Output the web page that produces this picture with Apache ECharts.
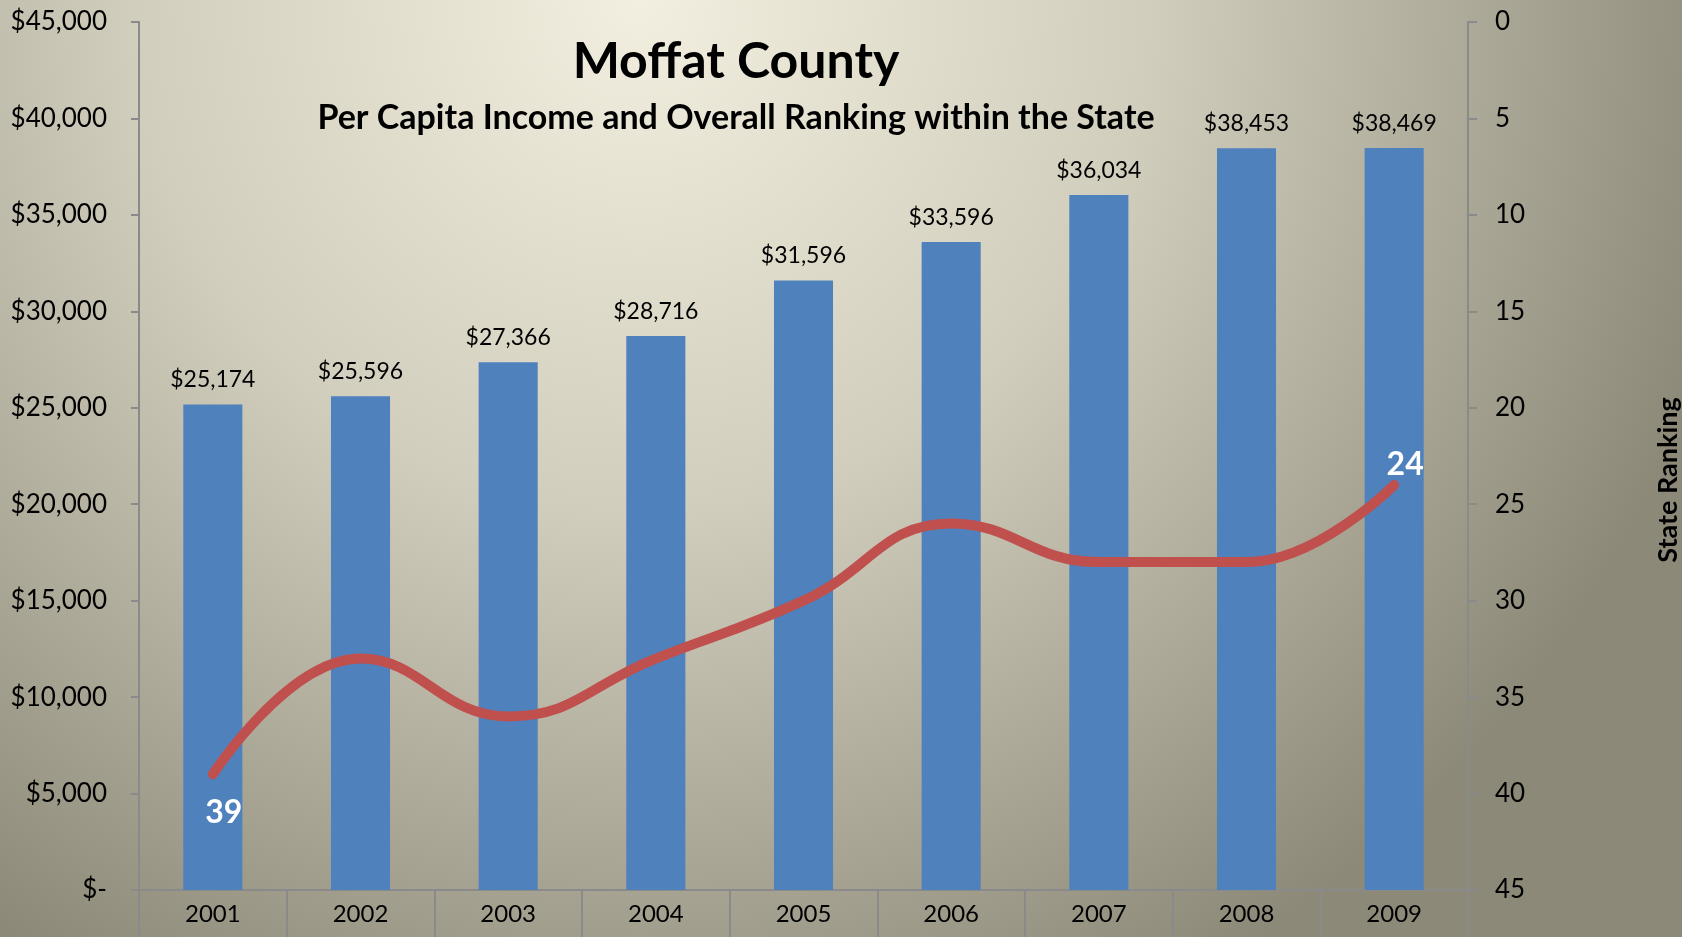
<!DOCTYPE html>
<html>
<head>
<meta charset="utf-8">
<script src="https://cdn.jsdelivr.net/npm/echarts@6/dist/echarts.min.js"></script>
<style>
html,body{margin:0;padding:0;}
#c{width:1682px;height:937px;}
</style>
</head>
<body>
<div id="c"></div>
<script>
var years = ['2001','2002','2003','2004','2005','2006','2007','2008','2009'];
var income = [25174, 25596, 27366, 28716, 31596, 33596, 36034, 38453, 38469];
var ranking = [39, 33, 36, 33, 30, 26, 28, 28, 24];
var titleText = 'Moffat County';
var subtitleText = 'Per Capita Income and Overall Ranking within the State';
var rightAxisName = 'State Ranking';

function money(v){
  if (v === 0) return '$-';
  return '$' + v.toLocaleString('en-US');
}

var FONT = 'Lato';
var chart = echarts.init(document.getElementById('c'));
var axisGray = '#8a8a8a';

chart.setOption({
  backgroundColor: new echarts.graphic.RadialGradient(0.38, 0.0, 1.2, [
    {offset: 0, color: '#f3efe0'},
    {offset: 0.45, color: '#d2cebd'},
    {offset: 1, color: '#8d8979'}
  ]),
  textStyle: {fontFamily: FONT},
  animation: false,
  title: [
    {text: titleText, left: 731, top: 32, textAlign: 'center',
     textStyle: {fontFamily: FONT, fontSize: 50, fontWeight: 'bold', color: '#000'}},
    {text: subtitleText, left: 731, top: 96, textAlign: 'center',
     textStyle: {fontFamily: FONT, fontSize: 34, fontWeight: 'bold', color: '#000'}}
  ],
  grid: {left: 139, right: 214, top: 22, bottom: 47, containLabel: false},
  xAxis: {
    type: 'category',
    data: years,
    axisLine: {lineStyle: {color: axisGray, width: 2}},
    axisTick: {show: true, length: 47, lineStyle: {color: axisGray, width: 2}},
    axisLabel: {color: '#000', fontSize: 24, margin: 12, fontFamily: FONT}
  },
  yAxis: [
    {
      type: 'value', min: 0, max: 45000, interval: 5000, position: 'left',
      splitLine: {show: false},
      axisLine: {show: true, lineStyle: {color: axisGray, width: 2}},
      axisTick: {show: true, length: 8, lineStyle: {color: axisGray, width: 2}},
      axisLabel: {color: '#000', fontSize: 26, margin: 32, fontFamily: FONT,
        formatter: function(v){ return money(v); }}
    },
    {
      type: 'value', min: 0, max: 45, interval: 5, inverse: true, position: 'right',
      splitLine: {show: false},
      axisLine: {show: true, lineStyle: {color: axisGray, width: 2}},
      axisTick: {show: true, length: 9, lineStyle: {color: axisGray, width: 2}},
      axisLabel: {color: '#000', fontSize: 26, margin: 27, fontFamily: FONT}
    }
  ],
  graphic: [
    {type: 'text', x: 1668, y: 480, rotation: Math.PI/2,
     style: {text: rightAxisName, font: 'bold 27px ' + FONT, fill: '#000',
       textAlign: 'center', textVerticalAlign: 'middle'}}
  ],
  series: [
    {
      type: 'bar', data: income, yAxisIndex: 0, barWidth: '40%',
      itemStyle: {color: '#4f81bd'},
      label: {show: true, position: 'top', distance: 13, color: '#000',
        fontSize: 23, fontFamily: FONT,
        formatter: function(p){ return money(p.value); }}
    },
    {
      type: 'line', data: ranking, yAxisIndex: 1, smooth: 0.45,
      symbol: 'none', lineStyle: {color: '#c0504d', width: 10, cap: 'round'},
      label: {show: false},
      markPoint: {
        symbol: 'circle', symbolSize: 1, itemStyle: {color: 'transparent'},
        data: [
          {coord: [0, ranking[0]], value: ranking[0],
           label: {show: true, position: 'bottom', distance: 22, offset: [11, 0],
             color: '#fff', fontSize: 32, fontWeight: 'bold', fontFamily: FONT}},
          {coord: [8, ranking[8]], value: ranking[8],
           label: {show: true, position: 'top', distance: 4, offset: [11, 0],
             color: '#fff', fontSize: 32, fontWeight: 'bold', fontFamily: FONT}}
        ]
      }
    }
  ]
});
</script>
</body>
</html>
